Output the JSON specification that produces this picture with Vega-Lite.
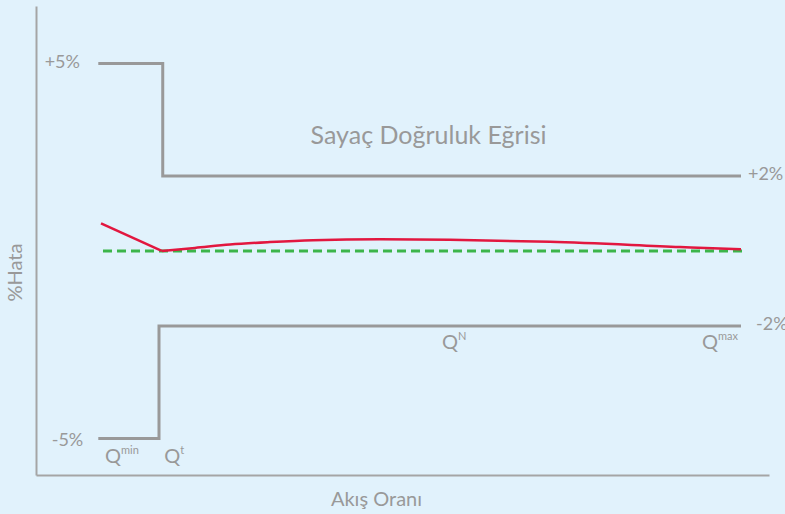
{
  "$schema": "https://vega.github.io/schema/vega-lite/v6.json",
  "width": 733,
  "height": 469,
  "autosize": {"type": "none"},
  "padding": {"left": 36, "top": 6, "right": 16, "bottom": 39},
  "background": "#e1f2fc",
  "config": {"view": {"stroke": null}, "font": "Lato"},
  "datasets": {
    "limits": [
      {"series": "upper", "order": 1, "x": 8.5, "y": 5},
      {"series": "upper", "order": 2, "x": 17.29, "y": 5},
      {"series": "upper", "order": 3, "x": 17.29, "y": 2},
      {"series": "upper", "order": 4, "x": 96.18, "y": 2},
      {"series": "lower", "order": 1, "x": 8.5, "y": -5},
      {"series": "lower", "order": 2, "x": 16.78, "y": -5},
      {"series": "lower", "order": 3, "x": 16.78, "y": -2},
      {"series": "lower", "order": 4, "x": 96.18, "y": -2}
    ],
    "reference": [
      {"x": 9.14, "y": 0},
      {"x": 96.32, "y": 0}
    ],
    "curve": [
      {"segment": "drop", "order": 1, "x": 8.87, "y": 0.736},
      {"segment": "drop", "order": 2, "x": 17.15, "y": 0},
      {"segment": "rise", "order": 2, "x": 17.15, "y": 0},
      {"segment": "rise", "order": 3, "x": 21.69, "y": 0.08},
      {"segment": "rise", "order": 4, "x": 26.47, "y": 0.17},
      {"segment": "rise", "order": 5, "x": 31.92, "y": 0.235},
      {"segment": "rise", "order": 6, "x": 37.79, "y": 0.285},
      {"segment": "rise", "order": 7, "x": 46.93, "y": 0.309},
      {"segment": "rise", "order": 8, "x": 56.48, "y": 0.298},
      {"segment": "rise", "order": 9, "x": 70.12, "y": 0.245},
      {"segment": "rise", "order": 10, "x": 87.86, "y": 0.105},
      {"segment": "rise", "order": 11, "x": 96.18, "y": 0.043}
    ],
    "leftLabels": [
      {"text": "+5%", "x": 6.0, "y": 5},
      {"text": "-5%", "x": 6.45, "y": -5.07}
    ],
    "rightLabels": [
      {"text": "+2%", "x": 97.13, "y": 2.02},
      {"text": "-2%", "x": 98.23, "y": -1.975}
    ],
    "flows": [
      {"q": "Q", "sup": "min", "x": 9.41, "y": -5.664},
      {"q": "Q", "sup": "t", "x": 17.5, "y": -5.664},
      {"q": "Q", "sup": "N", "x": 55.39, "y": -2.616},
      {"q": "Q", "sup": "max", "x": 90.86, "y": -2.616}
    ],
    "title": [
      {"text": "Sayaç Doğruluk Eğrisi", "x": 53.55, "y": 2.84}
    ]
  },
  "encoding": {
    "x": {
      "field": "x",
      "type": "quantitative",
      "scale": {"domain": [0, 100], "nice": false, "zero": false},
      "axis": {
        "title": "Akış Oranı",
        "ticks": false,
        "labels": false,
        "grid": false,
        "domainColor": "#a5a5a5",
        "domainWidth": 2,
        "titleFont": "Lato",
        "titleFontSize": 20,
        "titleFontWeight": "normal",
        "titleColor": "#999999",
        "titleX": 340,
        "titleY": 30,
        "titleAlign": "center",
        "titleBaseline": "alphabetic"
      }
    },
    "y": {
      "field": "y",
      "type": "quantitative",
      "scale": {"domain": [-5.976, 6.531], "nice": false, "zero": false},
      "axis": {
        "title": "%Hata",
        "ticks": false,
        "labels": false,
        "grid": false,
        "domainColor": "#a5a5a5",
        "domainWidth": 2,
        "titleFont": "Lato",
        "titleFontSize": 20,
        "titleFontWeight": "normal",
        "titleColor": "#999999",
        "titleX": -21,
        "titleY": 266,
        "titleAngle": -90,
        "titleAlign": "center",
        "titleBaseline": "middle"
      }
    }
  },
  "layer": [
    {
      "data": {"name": "limits"},
      "mark": {"type": "line", "color": "#999999", "strokeWidth": 3, "strokeCap": "butt", "strokeJoin": "miter"},
      "encoding": {
        "detail": {"field": "series"},
        "order": {"field": "order", "type": "quantitative"}
      }
    },
    {
      "data": {"name": "reference"},
      "mark": {"type": "line", "color": "#3cb54a", "strokeWidth": 3, "strokeDash": [9, 5]},
      "encoding": {}
    },
    {
      "data": {"name": "curve"},
      "mark": {"type": "line", "color": "#e2173f", "strokeWidth": 2.5, "interpolate": "monotone"},
      "encoding": {
        "detail": {"field": "segment"},
        "order": {"field": "order", "type": "quantitative"}
      }
    },
    {
      "data": {"name": "leftLabels"},
      "mark": {"type": "text", "align": "right", "baseline": "middle", "fontSize": 18, "color": "#999999", "font": "Lato"},
      "encoding": {"text": {"field": "text"}}
    },
    {
      "data": {"name": "rightLabels"},
      "mark": {"type": "text", "align": "left", "baseline": "middle", "fontSize": 18, "color": "#999999", "font": "Lato"},
      "encoding": {"text": {"field": "text"}}
    },
    {
      "data": {"name": "flows"},
      "mark": {"type": "text", "align": "left", "baseline": "alphabetic", "fontSize": 20, "color": "#999999", "font": "Lato"},
      "encoding": {"text": {"field": "q"}}
    },
    {
      "data": {"name": "flows"},
      "mark": {"type": "text", "align": "left", "baseline": "alphabetic", "fontSize": 11, "color": "#999999", "font": "Lato", "dx": 16, "dy": -9},
      "encoding": {"text": {"field": "sup"}}
    },
    {
      "data": {"name": "title"},
      "mark": {"type": "text", "align": "center", "baseline": "alphabetic", "fontSize": 25, "color": "#999999", "font": "Lato"},
      "encoding": {"text": {"field": "text"}}
    }
  ]
}
